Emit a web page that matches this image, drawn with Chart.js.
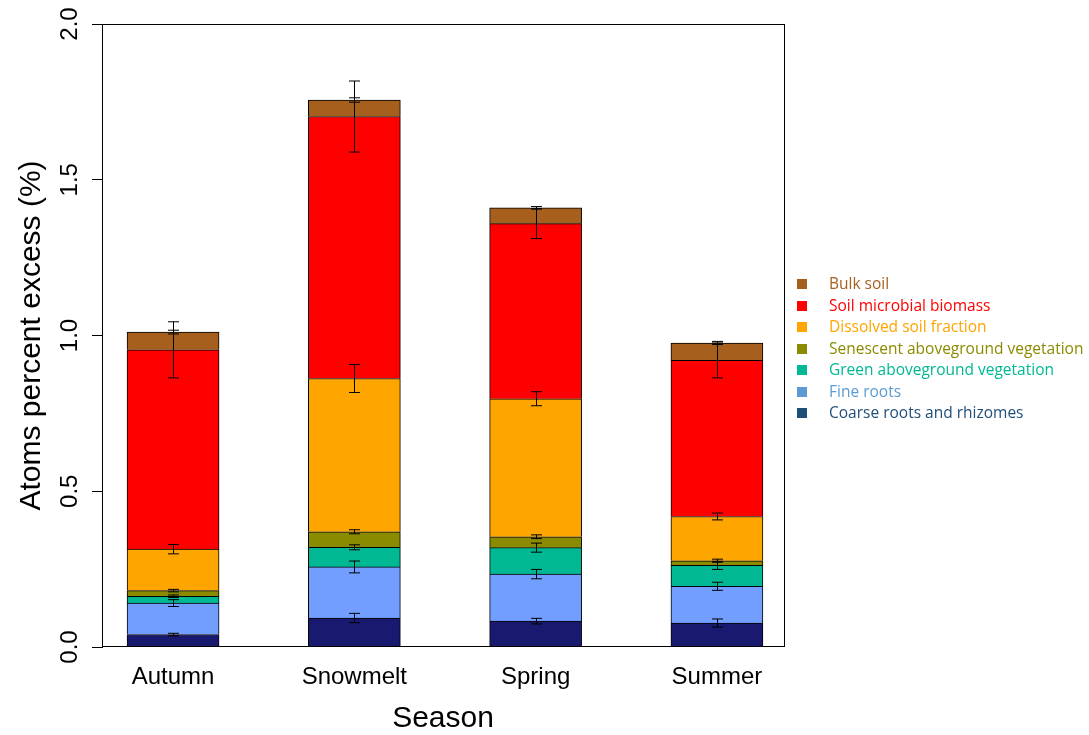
<!DOCTYPE html>
<html lang="en">
<head>
<meta charset="UTF-8">
<title>Atoms percent excess by season</title>
<script src="https://cdn.jsdelivr.net/npm/chart.js"></script>
<style>
    body { margin: 0; background: #fff; }
    #wrap { position: relative; width: 1089px; height: 735px; }
    #legend {
        position: absolute; left: 797px; top: 273px;
        font-family: "Open Sans", sans-serif; font-size: 15.5px;
    }
    #legend div { position: relative; height: 21.5px; line-height: 21.5px; padding-left: 32px; white-space: nowrap; }
    #legend span { position: absolute; left: 0; top: 6px; width: 10px; height: 10px; }
</style>
</head>
<body>
<div id="wrap">
    <canvas id="chart" width="1089" height="735"></canvas>
    <div id="legend"></div>
</div>
<script>
// categories and axis ticks
const seasons = ['Autumn', 'Snowmelt', 'Spring', 'Summer'];
const yTicks = [0, 0.5, 1.0, 1.5, 2.0];

// stacked segment sizes (bottom to top), atoms percent excess
const coarseRoots  = [0.040, 0.093, 0.083, 0.077];
const fineRoots    = [0.101, 0.164, 0.151, 0.118];
const greenVeg     = [0.022, 0.063, 0.085, 0.067];
const senescentVeg = [0.018, 0.050, 0.035, 0.015];
const dissolved    = [0.133, 0.492, 0.443, 0.142];
const microbial    = [0.640, 0.841, 0.562, 0.501];
const bulkSoil     = [0.057, 0.053, 0.051, 0.056];

// error (+/-) drawn at the top of each segment
const coarseRootsErr  = [0.004, 0.015, 0.009, 0.013];
const fineRootsErr    = [0.011, 0.019, 0.015, 0.013];
const greenVegErr     = [0.004, 0.008, 0.0145, 0.013];
const senescentVegErr = [0.004, 0.0065, 0.006, 0.005];
const dissolvedErr    = [0.015, 0.045, 0.0225, 0.011];
const microbialErr    = [0.090, 0.114, 0.048, 0.056];
const bulkSoilErr     = [0.006, 0.007, 0.004, 0.005];

const layers = [
    { label: 'Coarse roots and rhizomes',        values: coarseRoots,  errors: coarseRootsErr,  fill: '#191970', key: '#1F4E79' },
    { label: 'Fine roots',                       values: fineRoots,    errors: fineRootsErr,    fill: '#719EFF', key: '#5B9BD5' },
    { label: 'Green aboveground vegetation',     values: greenVeg,     errors: greenVegErr,     fill: '#00B894', key: '#00B894' },
    { label: 'Senescent aboveground vegetation', values: senescentVeg, errors: senescentVegErr, fill: '#8B8B00', key: '#8B8B00' },
    { label: 'Dissolved soil fraction',          values: dissolved,    errors: dissolvedErr,    fill: '#FFA500', key: '#FFA500' },
    { label: 'Soil microbial biomass',           values: microbial,    errors: microbialErr,    fill: '#FF0000', key: '#FF0000' },
    { label: 'Bulk soil',                        values: bulkSoil,     errors: bulkSoilErr,     fill: '#A65F1C', key: '#A65F1C' }
];

// legend, top to bottom
const legend = document.getElementById('legend');
layers.slice().reverse().forEach(l => {
    const row = document.createElement('div');
    row.style.color = l.key;
    row.innerHTML = '<span style="background:' + l.key + '"></span>' + l.label;
    legend.appendChild(row);
});

// box round the plot and the error bars
const boxAndErrors = {
    id: 'boxAndErrors',
    afterDatasetsDraw(chart) {
        const { ctx, chartArea: a } = chart;
        const y = chart.scales.y;
        ctx.save();
        ctx.strokeStyle = '#000';
        ctx.lineWidth = 1;
        seasons.forEach((s, i) => {
            let top = 0;
            layers.forEach((l, d) => {
                top += l.values[i];
                const bar = chart.getDatasetMeta(d).data[i];
                const x = Math.round(bar.x) + 0.5;
                const lo = y.getPixelForValue(top - l.errors[i]);
                const hi = y.getPixelForValue(top + l.errors[i]);
                ctx.beginPath();
                ctx.moveTo(x, lo); ctx.lineTo(x, hi);
                ctx.moveTo(x - 5.5, lo); ctx.lineTo(x + 5.5, lo);
                ctx.moveTo(x - 5.5, hi); ctx.lineTo(x + 5.5, hi);
                ctx.stroke();
            });
        });
        ctx.strokeRect(Math.round(a.left) + 0.5, Math.round(a.top) + 0.5,
                       Math.round(a.right - a.left), Math.round(a.bottom - a.top) - 1);
        ctx.restore();
    }
};

Chart.defaults.font.family = '"Liberation Sans", Arial, Helvetica, sans-serif';
Chart.defaults.color = '#000';

new Chart(document.getElementById('chart').getContext('2d'), {
    type: 'bar',
    data: {
        datasets: layers.map(l => ({
            label: l.label,
            data: l.values.map((v, i) => ({ x: i, y: v })),
            backgroundColor: l.fill,
            borderColor: '#000',
            borderWidth: 1,
            barThickness: 92
        }))
    },
    options: {
        responsive: false,
        animation: false,
        layout: { padding: { left: 0, right: 305, top: 24, bottom: 0 } },
        plugins: {
            legend: { display: false },
            tooltip: { enabled: false }
        },
        scales: {
            x: {
                type: 'linear',
                stacked: true,
                offset: false,
                min: -0.392,
                max: 3.37,
                afterBuildTicks: s => { s.ticks = seasons.map((_, i) => ({ value: i })); },
                afterFit: s => { s.height = 88; },
                grid: { display: false, drawTicks: false, offset: false },
                border: { display: false },
                ticks: {
                    callback: v => seasons[v],
                    autoSkip: false,
                    maxRotation: 0,
                    padding: 16,
                    font: { size: 24 }
                },
                title: {
                    display: true,
                    text: 'Season',
                    font: { size: 30, lineHeight: 1.1 },
                    padding: { top: 0, bottom: 0 }
                }
            },
            y: {
                stacked: true,
                min: 0,
                max: 2,
                afterBuildTicks: s => { s.ticks = yTicks.map(v => ({ value: v })); },
                afterFit: s => { s.width = 102; },
                grid: { drawOnChartArea: false, tickLength: 10, color: '#000' },
                border: { display: true, color: '#000' },
                ticks: {
                    callback: v => v.toFixed(1),
                    minRotation: 90,
                    maxRotation: 90,
                    crossAlign: 'center',
                    padding: 5,
                    font: { size: 24 }
                },
                title: {
                    display: true,
                    text: 'Atoms percent excess (%)',
                    font: { size: 30 },
                    padding: { top: 14, bottom: 0 }
                }
            }
        }
    },
    plugins: [boxAndErrors]
});
</script>
</body>
</html>
